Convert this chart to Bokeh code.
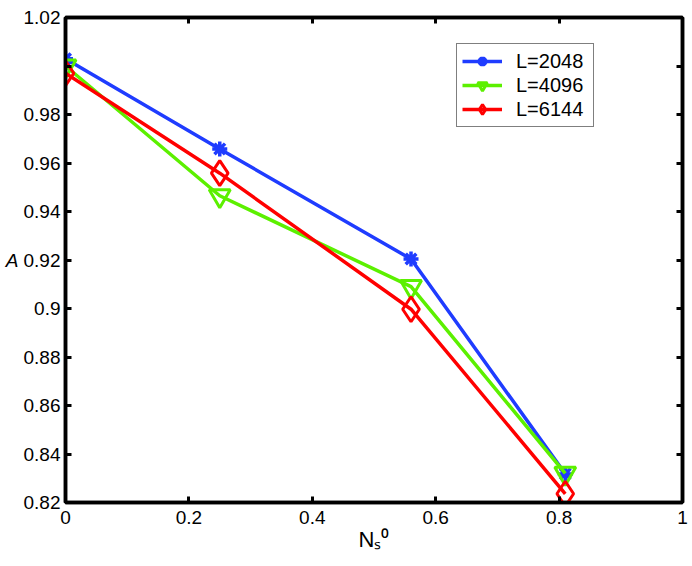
from bokeh.plotting import figure
from bokeh.models import (Range1d, FixedTicker, LinearAxis, Legend, LegendItem,
                          CustomJSTickFormatter)
from bokeh.embed import file_html
from bokeh.resources import INLINE

# ---- data ----
x_vals = [0.0, 0.25, 0.56, 0.81]
a_2048 = [1.003, 0.9658, 0.9204, 0.8318]
a_4096 = [1.0, 0.9465, 0.909, 0.832]
a_6144 = [0.997, 0.9558, 0.8997, 0.8236]
series_labels = ["L=2048", "L=4096", "L=6144"]

x_ticks = [0.0, 0.2, 0.4, 0.6, 0.8, 1.0]
x_tick_labels = ["0", "0.2", "0.4", "0.6", "0.8", "1"]
y_ticks = [0.82, 0.84, 0.86, 0.88, 0.9, 0.92, 0.94, 0.96, 0.98, 1.0, 1.02]
y_tick_labels = ["0.82", "0.84", "0.86", "0.88", "0.9", "0.92", "0.94",
                 "0.96", "0.98", "", "1.02"]
x_title = "N\u209b\u2070"
y_title = "A"

FONT = "Liberation Sans"
TICK_FS = "19px"

p = figure(width=688, height=564, output_backend="svg", toolbar_location=None,
           x_range=Range1d(0, 1), y_range=Range1d(0.82, 1.02),
           min_border_left=65, min_border_right=6, min_border_top=17,
           min_border_bottom=62, x_axis_location=None, y_axis_location=None)
p.grid.visible = False
p.outline_line_color = "black"
p.outline_line_width = 3.5
p.background_fill_color = "white"
p.border_fill_color = "white"


def style_axis(ax, ticks, overrides, standoff, show):
    ax.ticker = FixedTicker(ticks=ticks)
    ax.axis_line_color = "black"
    ax.axis_line_width = 3.5
    ax.major_tick_in = 6
    ax.major_tick_out = 0
    ax.major_tick_line_width = 3
    ax.minor_tick_line_color = None
    if show:
        ax.major_label_overrides = overrides
        ax.major_label_text_font = FONT
        ax.major_label_text_font_size = TICK_FS
        ax.major_label_text_color = "black"
        ax.major_label_standoff = standoff
        ax.axis_label_text_font = FONT
        ax.axis_label_text_color = "black"
    else:
        ax.formatter = CustomJSTickFormatter(code="return ''")
        ax.major_label_text_font_size = "1px"
        ax.major_label_standoff = 0


xb = LinearAxis()
style_axis(xb, x_ticks, dict(zip(x_ticks, x_tick_labels)), 8, True)
xb.axis_label = x_title
xb.axis_label_text_font_size = "22px"
xb.axis_label_text_font_style = "normal"
xb.axis_label_standoff = 0
p.add_layout(xb, "below")

yl = LinearAxis()
style_axis(yl, y_ticks, dict(zip(y_ticks, y_tick_labels)), 5, True)
yl.axis_label = y_title
yl.axis_label_orientation = "horizontal"
yl.axis_label_text_font_size = "19px"
yl.axis_label_text_font_style = "italic"
yl.axis_label_standoff = 2
p.add_layout(yl, "left")

xt = LinearAxis()
style_axis(xt, x_ticks, None, 0, False)
p.add_layout(xt, "above")
yr = LinearAxis()
style_axis(yr, y_ticks, None, 0, False)
p.add_layout(yr, "right")

blue = "#1f3cff"
green = "#5cf000"
red = "#ff0000"

l1 = p.line(x_vals, a_2048, line_color=blue, line_width=3.5)
m1 = p.scatter(x_vals, a_2048, marker="asterisk", size=15, line_color=blue,
               line_width=3.5)
l2 = p.line(x_vals, a_4096, line_color=green, line_width=3.5)
m2 = p.scatter(x_vals, a_4096, marker="inverted_triangle", size=21,
               line_color=green, fill_alpha=0, line_width=3)
l3 = p.line(x_vals, a_6144, line_color=red, line_width=3.5)
m3 = p.scatter(x_vals, a_6144, marker="diamond", size=25, line_color=red,
               fill_alpha=0, line_width=3)

legend = Legend(items=[LegendItem(label=series_labels[0], renderers=[l1, m1]),
                       LegendItem(label=series_labels[1], renderers=[l2, m2]),
                       LegendItem(label=series_labels[2], renderers=[l3, m3])],
                location=(391, 375), orientation="vertical")
legend.margin = 0
legend.padding = 5
legend.spacing = 0
legend.glyph_height = 24
legend.glyph_width = 40
legend.label_height = 24
legend.label_width = 72
legend.label_standoff = 14
legend.label_text_font = FONT
legend.label_text_font_size = "20px"
legend.label_text_color = "black"
legend.label_text_baseline = "middle"
legend.border_line_color = "black"
legend.border_line_width = 1
legend.background_fill_color = "white"
legend.background_fill_alpha = 1
p.add_layout(legend)

open("out.html", "w").write(file_html(p, INLINE))
